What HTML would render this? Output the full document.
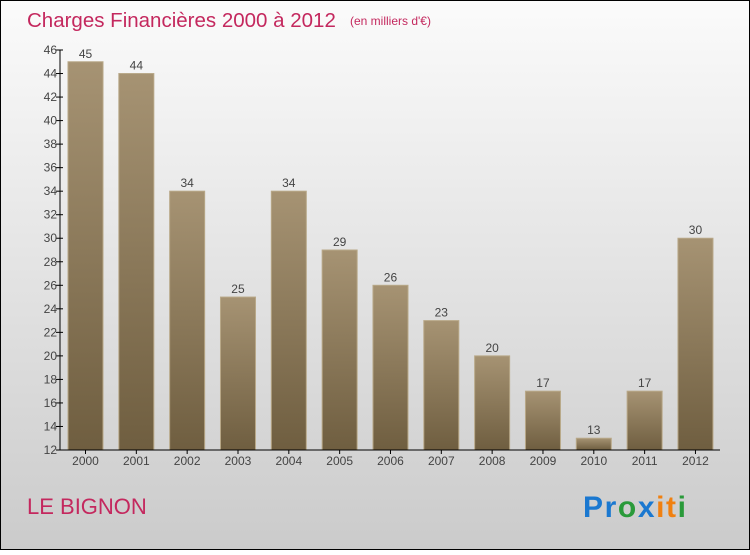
<!DOCTYPE html>
<html><head><meta charset="utf-8"><style>
body{margin:0;width:750px;height:550px;overflow:hidden;font-family:"Liberation Sans",sans-serif}
</style></head><body>
<svg width="750" height="550" xmlns="http://www.w3.org/2000/svg">
<defs>
<linearGradient id="bg" x1="0" y1="0" x2="0" y2="1"><stop offset="0" stop-color="#fbfbfb"/><stop offset="1" stop-color="#cbcbcb"/></linearGradient>
<linearGradient id="bar" x1="0" y1="0" x2="0" y2="1"><stop offset="0" stop-color="#a69373"/><stop offset="1" stop-color="#6f5e40"/></linearGradient>
</defs>
<rect x="0.5" y="0.5" width="749" height="549" fill="url(#bg)" stroke="#000"/>
<text x="27" y="27" font-size="20.5" fill="#c4285e">Charges Financières 2000 à 2012</text>
<text x="350" y="25" font-size="12" fill="#c4285e">(en milliers d'€)</text>
<g id="bars"></g>
<g id="axes"></g>
<text x="27" y="514" font-size="22" fill="#c4285e">LE BIGNON</text>
<text x="583" y="517" font-size="30" font-weight="bold" textLength="103"><tspan fill="#1a78d0">Pr</tspan><tspan fill="#2a9a3a">o</tspan><tspan fill="#1a78d0">x</tspan><tspan fill="#f08010">i</tspan><tspan fill="#f08010">t</tspan><tspan fill="#2a9a3a">i</tspan></text>
</svg>
<script>
const categories=["2000","2001","2002","2003","2004","2005","2006","2007","2008","2009","2010","2011","2012"];
const values=[45,44,34,25,34,29,26,23,20,17,13,17,30];
const yTicks=[12,14,16,18,20,22,24,26,28,30,32,34,36,38,40,42,44,46];
const NS="http://www.w3.org/2000/svg";
const y0=450,y1=50,vmin=12,vmax=46,x0=60,step=50.83,bw=35;
const ys=v=>y0-(v-vmin)*(y0-y1)/(vmax-vmin);
const xc=i=>x0+25.5+i*step;
function mk(t,a,p){const e=document.createElementNS(NS,t);for(const k in a)e.setAttribute(k,a[k]);p.appendChild(e);return e;}
const gb=document.getElementById('bars'),ga=document.getElementById('axes');
values.forEach((v,i)=>{
 const r=mk('rect',{x:xc(i)-bw/2,y:ys(v),width:bw,height:y0-ys(v),fill:'url(#bar)',stroke:'#b8a888','stroke-width':1},gb);
 
 
 const t=mk('text',{x:xc(i),y:ys(v)-4,'font-size':12,'text-anchor':'middle',fill:'#444'},gb);
 t.textContent=v;
 
 
 const c=mk('text',{x:xc(i),y:y0+15,'font-size':12,'text-anchor':'middle',fill:'#444'},ga);
 c.textContent=categories[i];
 
 
 mk('line',{x1:xc(i),x2:xc(i),y1:y0,y2:y0+4,stroke:'#000'},ga);
});
yTicks.forEach(v=>{
 mk('line',{x1:x0-4,x2:x0+3,y1:ys(v),y2:ys(v),stroke:'#000'},ga);
 const t=mk('text',{x:x0-3,y:ys(v)+4,'font-size':12,'text-anchor':'end',fill:'#444'},ga);
 t.textContent=v;
 
 
});
const ya=mk('line',{x1:x0,x2:x0,y1:y1,y2:y0,stroke:'#000'},ga);


const xa=mk('line',{x1:x0,x2:720,y1:y0,y2:y0,stroke:'#000'},ga);


</script>
</body></html>
